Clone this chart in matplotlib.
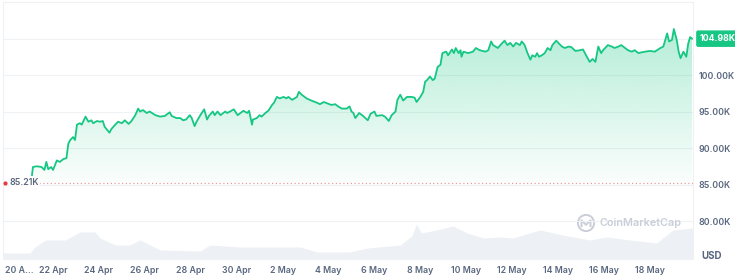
import numpy as np
import pandas as pd
import matplotlib
matplotlib.use('Agg')
import matplotlib.pyplot as plt
import matplotlib.dates as mdates
import matplotlib.transforms as mtrans
from matplotlib.patches import Circle

# BTC price: hours after 20 Apr 2025 00:00 -> price [K USD]
hours = [26, 27, 31, 36, 39, 41, 43, 46, 48, 52, 55, 59, 62, 64, 66, 69, 71, 73, 76, 78,
         82, 85, 88, 90, 94, 97, 100, 102, 107, 109, 113, 116, 120, 123, 127, 130, 134, 137, 139, 142,
         146, 149, 155, 160, 165, 170, 172, 177, 181, 184, 187, 191, 193, 196, 198, 202, 206, 209, 211, 215,
         217, 220, 223, 228, 230, 233, 237, 241, 244, 247, 251, 253, 256, 257, 261, 264, 266, 270, 273, 277,
         279, 282, 285, 289, 292, 294, 298, 303, 305, 308, 313, 318, 324, 327, 331, 335, 339, 343, 346, 350,
         355, 358, 360, 362, 364, 368, 372, 377, 380, 384, 386, 392, 395, 399, 402, 406, 408, 411, 414, 418,
         423, 426, 428, 432, 435, 437, 439, 442, 445, 447, 450, 453, 455, 459, 461, 465, 467, 469, 472, 474,
         475, 477, 482, 487, 490, 494, 500, 503, 506, 508, 513, 517, 520, 523, 526, 529, 532, 536, 538, 541,
         544, 547, 549, 552, 554, 556, 559, 562, 565, 568, 570, 574, 577, 580, 583, 587, 590, 594, 599, 602,
         606, 609, 612, 615, 618, 621, 623, 628, 632, 635, 639, 642, 646, 649, 653, 656, 660, 663, 667, 672,
         677, 683, 686, 690, 692, 695, 697, 700, 702, 704, 707, 710, 712, 714, 716]
price = [86.3, 87.4, 87.5, 87.4, 87.0, 88.1, 87.1, 87.4, 87.0, 88.3, 88.1, 88.5, 88.6, 90.6, 91.1, 91.5, 91.1, 93.2, 93.4, 93.2,
         94.3, 93.6, 93.8, 93.4, 93.7, 93.6, 93.7, 92.9, 92.1, 92.6, 93.2, 93.6, 93.4, 93.8, 93.3, 93.7, 94.5, 95.4, 95.0, 95.2,
         94.8, 95.0, 94.5, 94.3, 94.4, 94.9, 94.4, 94.1, 94.1, 93.8, 93.9, 94.5, 94.1, 93.0, 93.6, 94.5, 95.3, 93.9, 94.4, 95.0,
         94.5, 95.0, 94.5, 95.0, 94.8, 95.0, 95.3, 94.5, 94.8, 95.1, 94.8, 95.1, 93.2, 93.9, 94.1, 94.5, 94.3, 94.8, 95.1, 95.9,
         96.2, 97.0, 96.8, 97.0, 96.8, 97.0, 96.6, 97.0, 97.7, 97.3, 96.8, 96.5, 96.2, 96.0, 96.3, 96.1, 95.9, 96.0, 95.7, 95.4,
         95.4, 95.7, 95.0, 94.8, 94.1, 94.8, 94.4, 93.8, 94.7, 95.0, 94.4, 94.5, 94.3, 93.7, 94.5, 95.0, 96.6, 97.3, 96.5, 97.0,
         97.0, 96.9, 96.3, 97.0, 97.7, 99.1, 99.3, 99.8, 99.3, 99.5, 101.1, 101.4, 103.0, 103.2, 102.7, 103.5, 103.0, 103.7, 103.0, 103.4,
         102.5, 103.2, 103.0, 103.2, 103.7, 103.4, 103.2, 103.4, 104.6, 104.1, 103.7, 104.3, 104.7, 104.1, 104.4, 103.9, 104.4, 104.1, 104.6, 104.1,
         103.0, 102.1, 102.7, 102.5, 103.0, 102.5, 102.7, 103.0, 103.7, 103.4, 104.1, 104.7, 104.3, 103.9, 103.7, 103.9, 103.8, 103.3, 103.4, 103.5,
         102.5, 101.8, 102.2, 101.8, 103.9, 103.0, 103.4, 104.1, 103.9, 103.7, 103.9, 104.1, 103.7, 103.4, 103.2, 103.4, 103.0, 103.1, 103.2, 103.3,
         103.2, 103.7, 103.9, 105.7, 104.6, 104.8, 106.3, 104.8, 103.2, 102.3, 103.2, 102.5, 104.3, 105.2, 104.98]

# faded segment before the period open
pre_hours = [11, 16, 20, 24, 26]
pre_price = [84.95, 84.85, 84.8, 84.9, 85.21]

# trading volume [B USD]
vol_hours = [-5, 24, 29, 40, 61, 76, 92, 97, 113, 128, 139, 160, 202, 212, 243, 306, 324, 358, 377,
             411, 423, 428, 433, 449, 466, 481, 498, 515, 529, 557, 581, 609, 627, 651, 679, 696, 717]
vol = [12, 12, 24, 38, 38, 54, 54, 42, 28, 28, 38, 18, 16, 28, 24, 24, 14, 14, 22,
       28, 46, 70, 52, 58, 66, 52, 42, 44, 42, 58, 48, 38, 44, 38, 32, 58, 62]

open_price = 85.21
last_price = 104.98
y_ticks = [80, 85, 90, 95, 100]
grid_lines = [80, 85, 90, 95, 100, 105]

GREEN = '#16c784'
TXT = '#58667e'
GRID = '#eff2f5'

plt.rcParams['font.family'] = ['Inter', 'DejaVu Sans']

t0 = pd.Timestamp('2025-04-20')
t = mdates.date2num(t0 + pd.to_timedelta(hours, unit='h'))
t_pre = mdates.date2num(t0 + pd.to_timedelta(pre_hours, unit='h'))
t_vol = mdates.date2num(t0 + pd.to_timedelta(vol_hours, unit='h'))
price = np.array(price)

fig = plt.figure(figsize=(7.35, 2.77), dpi=100)
ax = fig.add_axes([3 / 735, 18 / 277, 690 / 735, 257 / 277])
x0 = mdates.date2num(t0 - pd.Timedelta(hours=4.3))
x1 = mdates.date2num(t0 + pd.Timedelta(hours=717))
ylo, yhi = 74.8, 110.0

# volume in the bottom band
axv = ax.twinx()
axv.fill_between(t_vol, 0, vol, color='#edf0f4', lw=0, zorder=1)
axv.set_ylim(0, 514)
axv.set_axis_off()
ax.set_zorder(axv.get_zorder() + 1)
ax.patch.set_visible(False)

for g in grid_lines:
    ax.axhline(g, color=GRID, lw=0.8, zorder=0)

# gradient fill between price and the open
poly = ax.fill_between(t, open_price, price, color='none', lw=0)
grad = np.zeros((256, 2, 4))
grad[..., 0] = 22 / 255
grad[..., 1] = 199 / 255
grad[..., 2] = 132 / 255
grad[..., 3] = np.linspace(0.02, 0.32, 256)[:, None]
im = ax.imshow(grad, extent=[t[0], t[-1], open_price, 106.5], origin='lower',
               aspect='auto', zorder=1, interpolation='bicubic')
im.set_clip_path(poly.get_paths()[0], transform=ax.transData)

ax.plot(t_pre, pre_price, color='#f6b8be', lw=1.0, alpha=0.6, zorder=2)
ax.plot(t, price, color=GREEN, lw=1.3, zorder=3)

# open reference line and label
ax.plot([t[0] + 0.3, x1], [open_price, open_price], color='#ea9aa3', lw=0.9,
        ls=(0, (1, 2)), zorder=2)
ax.plot([x0 + 0.1], [open_price], marker='o', ms=2, color='#ea3943', zorder=4, clip_on=False)
ax.text(x0 + 0.28, open_price, '85.21K', color=TXT, fontsize=6.3, fontweight='semibold',
        va='center', ha='left', zorder=4,
        bbox=dict(boxstyle='square,pad=0.1', fc='white', ec='none', alpha=0.85))

ax.set_xlim(x0, x1)
ax.set_ylim(ylo, yhi)

# axis ticks
ax.yaxis.tick_right()
ax.set_yticks(y_ticks)
ax.set_yticklabels([f'{v:.2f}K' for v in y_ticks])
date_ticks = pd.date_range('2025-04-22', '2025-05-18', freq='2D')
ax.set_xticks(mdates.date2num(date_ticks))
ax.set_xticklabels([f'{d.day} {d.strftime("%b")}' for d in date_ticks])
ax.tick_params(axis='both', length=0, labelsize=6.3, labelcolor=TXT)
ax.tick_params(axis='x', pad=5)
ax.tick_params(axis='y', pad=4)
for lab in ax.get_xticklabels() + ax.get_yticklabels():
    lab.set_fontweight('semibold')
ax.text(mdates.date2num(t0) - 0.09, ylo, '20 A...', color=TXT, fontsize=6.3,
        fontweight='semibold', ha='left', va='top',
        transform=ax.transData + mtrans.ScaledTranslation(0, -5 / 72, fig.dpi_scale_trans))

for s in ax.spines.values():
    s.set_color(GRID)
    s.set_linewidth(0.8)

# current price tag
ax.annotate('104.98K', xy=(1.0, last_price), xycoords=('axes fraction', 'data'),
            xytext=(5, 0), textcoords='offset points', ha='left', va='center',
            fontsize=6.3, fontweight='bold', color='white',
            bbox=dict(boxstyle='round,pad=0.35,rounding_size=0.15', fc=GREEN, ec=GREEN))

fig.text(712 / 735, 1 - 256 / 277, 'USD', color=TXT, fontsize=7, fontweight='bold',
         ha='center', va='center')

# watermark
fig.text(641 / 735, 1 - 223 / 277, 'CoinMarketCap', color='#c9ced8', fontsize=7.8,
         fontweight='semibold', ha='center', va='center')
lax = fig.add_axes([577 / 735, 1 - 232 / 277, 18 / 735, 18 / 277])
lax.set_aspect('equal')
lax.add_patch(Circle((0, 0), 0.9, fill=False, ec='#c9ced8', lw=1.4))
lax.plot([-0.5, -0.5, 0.0, 0.5, 0.5], [-0.35, 0.3, -0.2, 0.3, -0.35], color='#c9ced8', lw=1.4)
lax.set_xlim(-1, 1)
lax.set_ylim(-1, 1)
lax.set_axis_off()

fig.savefig('out.png', dpi=100)
